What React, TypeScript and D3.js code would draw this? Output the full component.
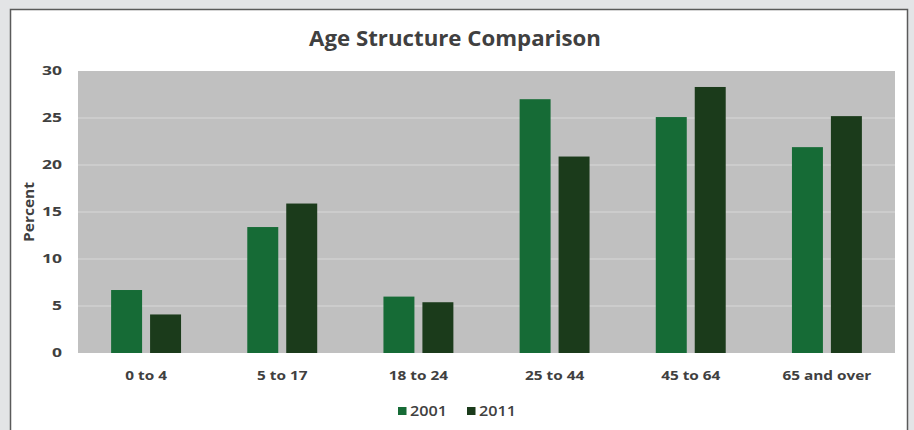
import * as d3 from "d3";
import type { ReactNode } from "react";

// data
const categories = ["0 to 4", "5 to 17", "18 to 24", "25 to 44", "45 to 64", "65 and over"];
const series = ["2001", "2011"];
const values2001 = [6.7, 13.4, 6.0, 27.0, 25.1, 21.9];
const values2011 = [4.1, 15.9, 5.4, 20.9, 28.3, 25.2];
const yTicks = [0, 5, 10, 15, 20, 25, 30];

const W = 914;
const H = 430;
const margin = { top: 71, right: 19, bottom: 77, left: 78 };
const colors: Record<string, string> = { "2001": "#166b36", "2011": "#1b3b1b" };
const FONT = "'Open Sans', 'Noto Sans', sans-serif";
const TEXT = "#404040";

// text that is stretched sideways a little, like the source picture
function SText(props: {
  x: number;
  y: number;
  sx?: number;
  rotate?: number;
  anchor?: "start" | "middle" | "end";
  size: number;
  weight?: number;
  children: ReactNode;
}) {
  const { x, y, sx = 1, rotate = 0, anchor = "middle", size, weight = 700, children } = props;
  return (
    <text
      transform={`translate(${x},${y}) rotate(${rotate}) scale(${sx},1)`}
      textAnchor={anchor}
      dy="0.35em"
      fontSize={size}
      fontWeight={weight}
      fill={TEXT}
    >
      {children}
    </text>
  );
}

export default function App() {
  const iw = W - margin.left - margin.right;
  const ih = H - margin.top - margin.bottom;

  const x0 = d3.scaleBand().domain(categories).range([0, iw]).padding(0);
  const x1 = d3
    .scaleBand()
    .domain(series)
    .range([0, x0.bandwidth()])
    .paddingInner(0.205)
    .paddingOuter(0.85);
  const y = d3.scaleLinear().domain([0, 30]).range([ih, 0]);

  const rows = categories.map((c, i) => ({
    cat: c,
    vals: { "2001": values2001[i], "2011": values2011[i] } as Record<string, number>,
  }));

  return (
    <div style={{ position: "absolute", left: 0, top: 0 }}>
      <svg width={W} height={H} style={{ display: "block", fontFamily: FONT }}>
        <rect x={0} y={0} width={W} height={H} fill="#e3e4e6" />
        <rect x={10.5} y={9.5} width={897} height={H + 10} fill="#ffffff" stroke="#5a5a5a" strokeWidth={1.5} />

        <SText x={455} y={39} size={21} sx={1.06}>
          Age Structure Comparison
        </SText>

        <g transform={`translate(${margin.left},${margin.top})`}>
          <rect x={0} y={0} width={iw} height={ih} fill="#c0c0c0" />
          {yTicks.slice(1, -1).map((t) => (
            <line key={t} x1={0} x2={iw} y1={y(t)} y2={y(t)} stroke="#d8d8d8" strokeWidth={1.2} />
          ))}
          {yTicks.map((t) => (
            <SText key={t} x={-16} y={y(t)} anchor="end" size={12.5} sx={1.4}>
              {t}
            </SText>
          ))}
          <SText x={-49} y={ih / 2} rotate={-90} size={13.5} sx={1.15}>
            Percent
          </SText>

          {rows.map((r) => (
            <g key={r.cat} transform={`translate(${x0(r.cat)},0)`}>
              {series.map((s) => (
                <rect
                  key={s}
                  x={x1(s)}
                  y={y(r.vals[s])}
                  width={x1.bandwidth()}
                  height={ih - y(r.vals[s])}
                  fill={colors[s]}
                />
              ))}
              <SText x={x0.bandwidth() / 2} y={ih + 23} size={12} sx={1.28}>
                {r.cat}
              </SText>
            </g>
          ))}
        </g>

        {/* legend */}
        <g transform={`translate(398,411)`}>
          {series.map((s, i) => (
            <g key={s} transform={`translate(${i * 69},0)`}>
              <rect x={0} y={-4} width={8.5} height={8} fill={colors[s]} />
              <SText x={12} y={0} anchor="start" size={13.5} sx={1.2} weight={600}>
                {s}
              </SText>
            </g>
          ))}
        </g>
      </svg>
    </div>
  );
}
